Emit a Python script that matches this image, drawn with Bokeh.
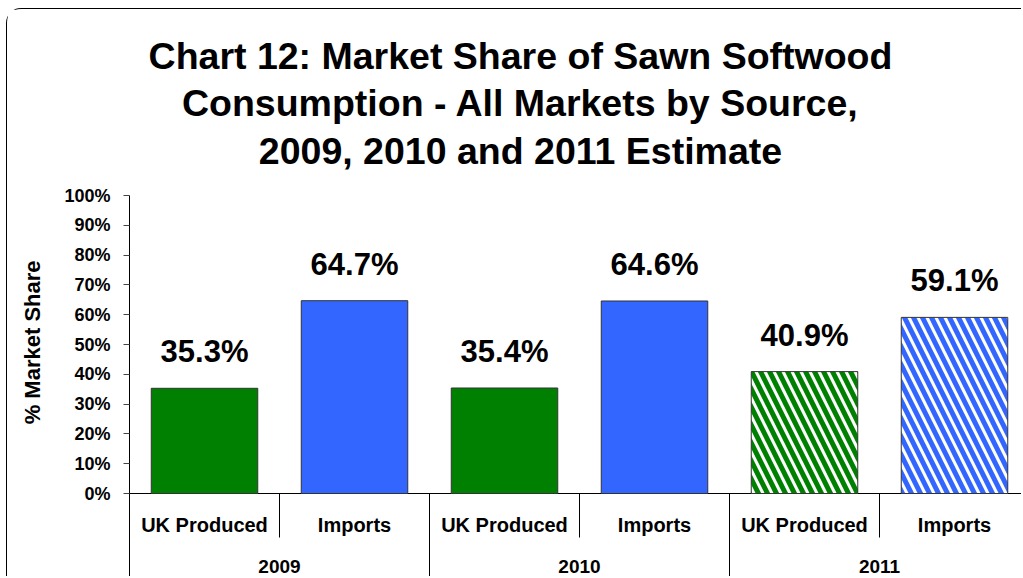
import numpy as np
from bokeh.plotting import figure
from bokeh.models import (ColumnDataSource, FixedTicker, PrintfTickFormatter,
                          LabelSet, Range1d)
from bokeh.embed import file_html
from bokeh.resources import INLINE
from bokeh.core.properties import value

# ---- data ----
categories = ["UK Produced", "Imports", "UK Produced", "Imports", "UK Produced", "Imports"]
years = ["2009", "2010", "2011"]
shares = [35.3, 64.7, 35.4, 64.6, 40.9, 59.1]
bar_colors = ["#008000", "#3366FF", "#008000", "#3366FF", "#008000", "#3366FF"]
hatched = [False, False, False, False, True, True]
y_ticks = [0, 10, 20, 30, 40, 50, 60, 70, 80, 90, 100]
title_lines = ["Chart 12: Market Share of Sawn Softwood",
               "Consumption - All Markets by Source,",
               "2009, 2010 and 2011 Estimate"]
y_label = "% Market Share"

FONT = "Liberation Sans"
W, H = 1015, 568
PX = 2.98                      # pixels per percentage point
Y_MAX = 100 + 186 / PX         # frame reaches the top of the canvas (title area)
Y_MIN = -84 / PX               # room for the category / year labels
NBSP = "\u00a0"

x = [i + 0.5 for i in range(len(categories))]
src = ColumnDataSource(dict(
    x=x, top=shares, cat=categories,
    fill=[("white" if h else c) for c, h in zip(bar_colors, hatched)],
    hcol=bar_colors,
    hpat=[("\\" if h else " ") for h in hatched],
    lab=[f"{v:.1f}%" for v in shares],
))

p = figure(width=W, height=H, output_backend="svg", toolbar_location=None,
           x_axis_location=None, min_border_left=122, min_border_right=0,
           min_border_top=0, min_border_bottom=0,
           x_range=Range1d(0, 893 / 150), y_range=Range1d(Y_MIN, Y_MAX),
           styles={"margin-left": "6px", "margin-top": "8px",
                   "border-left": "1px solid black", "border-top": "1px solid black",
                   "border-top-left-radius": "15px"})
p.title.visible = False
p.outline_line_color = None
p.grid.visible = False
p.background_fill_color = "white"
p.border_fill_color = "white"

# y axis (line drawn only from the bottom of the label area up to 100 %)
ax = p.yaxis[0]
ax.bounds = (Y_MIN, 100)
ax.ticker = FixedTicker(ticks=y_ticks)
ax.formatter = PrintfTickFormatter(format="%d%%")
ax.major_tick_in = 0
ax.major_tick_out = 6
ax.minor_tick_line_color = None
ax.axis_line_color = "black"
ax.major_tick_line_color = "#444444"
ax.major_label_text_font = FONT
ax.major_label_text_font_style = "bold"
ax.major_label_text_font_size = "18px"
ax.major_label_text_color = "black"
ax.major_label_standoff = 13
# label centred on the 0-100 % part of the axis (trailing no-break spaces shift it down)
ax.axis_label = y_label + NBSP * 16
ax.axis_label_text_font = FONT
ax.axis_label_text_font_style = "bold"
ax.axis_label_text_font_size = "22px"
ax.axis_label_text_color = "black"
ax.axis_label_standoff = 16

# baseline
p.segment(x0=[0], y0=[0], x1=[893 / 150], y1=[0], line_color="black", line_width=1)

# bars
p.vbar(x="x", top="top", width=0.71, bottom=0, source=src,
       fill_color="fill", line_color="#333333", line_width=1,
       hatch_pattern="hpat", hatch_color="hcol", hatch_scale=18, hatch_weight=5)

# value labels
p.add_layout(LabelSet(x="x", y="top", text="lab", source=src, y_offset=26,
                      text_align="center", text_baseline="alphabetic",
                      text_font=value(FONT), text_font_style="bold",
                      text_font_size="31px", text_color="black"))

# category labels
p.text(x="x", y=-31 / PX, text="cat", source=src, text_align="center",
       text_baseline="middle", text_font=value(FONT), text_font_style="bold",
       text_font_size="20px", text_color="black")

# year labels
yx = [2 * i + 1 for i in range(len(years))]
p.text(x=yx, y=[-73 / PX] * len(years), text=years, text_align="center",
       text_baseline="middle", text_font=value(FONT), text_font_style="bold",
       text_font_size="19px", text_color="black")

# separators
inner = [2 * i + 1 for i in range(len(years))]
outer = [2 * i for i in range(1, len(years) + 1)]
p.segment(x0=inner, y0=[0] * len(inner), x1=inner, y1=[-44 / PX] * len(inner),
          line_color="black", line_width=1)
p.segment(x0=outer, y0=[0] * len(outer), x1=outer, y1=[Y_MIN] * len(outer),
          line_color="black", line_width=1)

# title: three centred lines above the plot area
title_gap_px = [139.3, 92.8, 44.3]      # baseline distance above the 100 % line
p.text(x=[391 / 150] * 3, y=[100 + g / PX for g in title_gap_px], text=title_lines,
       text_align="center", text_baseline="alphabetic", text_font=value(FONT),
       text_font_style="bold", text_font_size="37.5px", text_color="black")

open("out.html", "w").write(file_html(p, INLINE))
